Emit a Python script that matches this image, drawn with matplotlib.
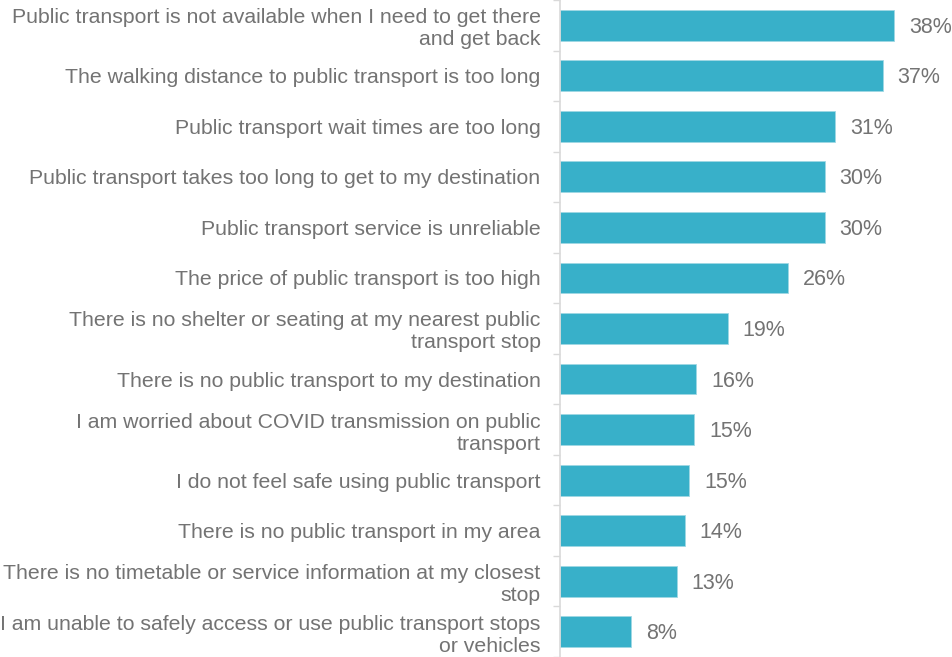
import matplotlib
matplotlib.use("Agg")
import matplotlib.pyplot as plt
import numpy as np

plt.rcParams['font.family'] = ['Liberation Sans', 'DejaVu Sans']

categories = [
    "Public transport is not available when I need to get there\nand get back",
    "The walking distance to public transport is too long",
    "Public transport wait times are too long",
    "Public transport takes too long to get to my destination",
    "Public transport service is unreliable",
    "The price of public transport is too high",
    "There is no shelter or seating at my nearest public\ntransport stop",
    "There is no public transport to my destination",
    "I am worried about COVID transmission on public\ntransport",
    "I do not feel safe using public transport",
    "There is no public transport in my area",
    "There is no timetable or service information at my closest\nstop",
    "I am unable to safely access or use public transport stops\nor vehicles",
]
values = [38.0, 36.7, 31.3, 30.1, 30.1, 25.9, 19.1, 15.5, 15.3, 14.7, 14.2, 13.3, 8.1]
value_labels = ["38%", "37%", "31%", "30%", "30%", "26%", "19%", "16%", "15%", "15%", "14%", "13%", "8%"]

bar_color = "#38B0C9"
text_color = "#737373"

fig = plt.figure(figsize=(9.53, 6.57), dpi=100)
ax = fig.add_axes([560 / 953, 0.0, 1 - 560 / 953, 1.0])

y = np.arange(len(categories))
ax.barh(y, values, height=0.61, color=bar_color, edgecolor="#9fd8e4", linewidth=0.6)
ax.set_ylim(len(categories) - 0.5, -0.5)
ax.set_xlim(0, 393 / 8.79)

for yi, v, lab in zip(y, values, value_labels):
    ax.text(v + 1.7, yi + 0.04, lab, va="center", ha="left", fontsize=15.5, color=text_color)

ax.set_yticks(y)
ax.set_yticklabels(categories, fontsize=15.3, color=text_color, linespacing=1.2)
ax.set_yticks(np.arange(len(categories) + 1) - 0.5, minor=True)
ax.tick_params(axis="y", which="major", length=0, pad=14)
ax.tick_params(axis="y", which="minor", length=5, width=1, color="#d9d9d9", direction="out")
ax.set_xticks([])

for side in ["top", "right", "bottom"]:
    ax.spines[side].set_visible(False)
ax.spines["left"].set_color("#d9d9d9")
ax.spines["left"].set_linewidth(1.2)

fig.savefig("out.png", dpi=100)
